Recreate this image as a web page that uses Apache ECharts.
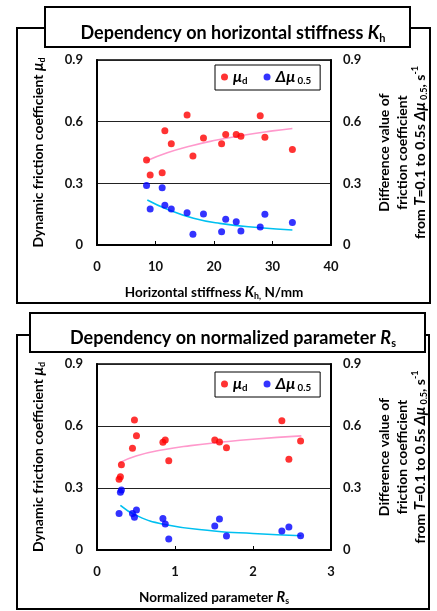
<!DOCTYPE html>
<html>
<head>
<meta charset="utf-8">
<script src="https://cdn.jsdelivr.net/npm/echarts@6/dist/echarts.min.js"></script>
<style>
  html, body { margin: 0; padding: 0; background: #fff; }
  #chart { width: 437px; height: 611px; }
</style>
</head>
<body>
<div id="chart"></div>
<script>
// top panel: horizontal stiffness Kh (N/mm)
let khValues = [8.47, 9.09, 11.14, 11.6, 12.7, 15.4, 16.4, 18.2, 21.3, 22.0, 23.8, 24.6, 27.9, 28.7, 33.4];
let khMu = [0.413, 0.340, 0.352, 0.556, 0.493, 0.632, 0.433, 0.520, 0.493, 0.537, 0.537, 0.529, 0.629, 0.524, 0.464];
let khDmu = [0.290, 0.175, 0.279, 0.193, 0.175, 0.157, 0.052, 0.151, 0.065, 0.125, 0.113, 0.068, 0.088, 0.149, 0.109];
let khMuFitX = [8.5, 12, 16, 20, 25, 30, 33.4];
let khMuFitY = [0.41, 0.449, 0.482, 0.508, 0.534, 0.555, 0.567];
let khDmuFitX = [8.6, 12, 16.5, 21, 27.9, 33.4];
let khDmuFitY = [0.219, 0.174, 0.130, 0.105, 0.084, 0.073];

// bottom panel: normalized parameter Rs
let rsValues = [0.283, 0.30, 0.313, 0.455, 0.48, 0.506, 0.845, 0.875, 0.92, 1.51, 1.57, 1.66, 2.37, 2.46, 2.61];
let rsMu = [0.342, 0.355, 0.413, 0.492, 0.629, 0.553, 0.521, 0.532, 0.432, 0.532, 0.523, 0.495, 0.626, 0.439, 0.527];
let rsDmu = [0.177, 0.279, 0.290, 0.177, 0.158, 0.193, 0.153, 0.126, 0.053, 0.116, 0.150, 0.068, 0.092, 0.111, 0.069];
let rsMuFitX = [0.29, 0.5, 0.85, 1.2, 1.6, 2.0, 2.62];
let rsMuFitY = [0.422, 0.455, 0.485, 0.505, 0.522, 0.536, 0.552];
let rsDmuFitX = [0.3, 0.5, 0.85, 1.5, 2.0, 2.62];
let rsDmuFitY = [0.216, 0.168, 0.125, 0.092, 0.080, 0.069];

let khMax = 40, khStep = 10;
let rsMax = 3, rsStep = 1;
let yMax = 0.9, yStep = 0.3;

const FONT = 'Lato';
const zip = (xs, ys) => xs.map((x, i) => [x, ys[i]]);

function richFor(size, lh) {
    return {
        b: { fontFamily: FONT, fontWeight: 'bold', fontSize: size, color: '#000', lineHeight: lh },
        i: { fontFamily: FONT, fontWeight: 'bold', fontStyle: 'italic', fontSize: size + 1, color: '#000', lineHeight: lh },
        sub: { fontFamily: FONT, fontWeight: 'bold', fontSize: size * 0.65, color: '#000', lineHeight: 9, verticalAlign: 'bottom' },
        sup: { fontFamily: FONT, fontWeight: 'bold', fontSize: size * 0.65, color: '#000', lineHeight: 9, verticalAlign: 'top' }
    };
}

const leftName = '{b|Dynamic friction coefficient }{i|μ}{sub|d}';
const rightName = '{b|Difference value of}\n{b|friction coefficient}\n' +
    '{b|from }{i|T}{b|=0.1 to 0.5s }{i|Δμ}{sub| 0.5}{b|, s}{sup|-1}';

function xAxisFor(grid, max, interval, nameStr) {
    return {
        type: 'value', gridIndex: grid, min: 0, max: max, interval: interval,
        name: nameStr, nameLocation: 'middle', nameGap: 39,
        nameTextStyle: { rich: richFor(13.5, 17) },
        axisLine: { show: true, lineStyle: { color: '#000', width: 2 } },
        axisTick: { show: true, inside: true, length: 4, lineStyle: { color: '#000' } },
        axisLabel: { margin: 15, fontFamily: FONT, fontWeight: 'bold', fontSize: 13, color: '#111' },
        splitLine: { show: false }
    };
}

function yAxisFor(grid, right) {
    return {
        type: 'value', gridIndex: grid, min: 0, max: yMax, interval: yStep,
        position: right ? 'right' : 'left',
        name: right ? rightName : leftName,
        nameLocation: 'middle', nameRotate: 90, nameGap: right ? 44 : 50,
        nameTextStyle: { rich: richFor(14, 18), align: 'center' },
        axisLine: { show: true, lineStyle: { color: '#000', width: 2 } },
        axisTick: { show: false },
        axisLabel: { margin: right ? 12 : 14, fontFamily: FONT, fontWeight: 'bold', fontSize: 13, color: '#111' },
        splitLine: { show: !right, lineStyle: { color: '#222', width: 1 } }
    };
}

function scatter(name, data, xi, yi, color) {
    return { name: name, type: 'scatter', xAxisIndex: xi, yAxisIndex: yi, data: data,
        symbolSize: 7, itemStyle: { color: color }, z: 3 };
}
function trend(data, xi, yi, color) {
    return { type: 'line', xAxisIndex: xi, yAxisIndex: yi, data: data, smooth: true,
        showSymbol: false, lineStyle: { color: color, width: 1.6 }, z: 2, silent: true };
}

function legendAt(top) {
    return {
        left: 215, top: top, orient: 'horizontal',
        data: ['mu', 'dmu'], icon: 'circle', itemWidth: 7, itemHeight: 7, itemGap: 16,
        padding: [4, 9, 4, 6], borderColor: '#000', borderWidth: 1, backgroundColor: '#fff',
        formatter: function (name) {
            return name === 'mu' ? '{i|μ}{sub|d}' : '{i|Δμ}{sub| 0.5}';
        },
        textStyle: { rich: richFor(15, 18) }
    };
}

function titleAt(text, top) {
    return {
        text: text, left: 228, top: top, textAlign: 'center',
        textStyle: { fontFamily: FONT, fontWeight: 'bold', fontSize: 18, color: '#000',
            rich: { i: { fontFamily: FONT, fontWeight: 'bold', fontStyle: 'italic', fontSize: 18, lineHeight: 22 },
                    s: { fontFamily: FONT, fontSize: 11, lineHeight: 9, verticalAlign: 'bottom' } } }
    };
}

let chart = echarts.init(document.getElementById('chart'));
let option = {
    animation: false,
    backgroundColor: '#fff',
    title: [
        titleAt('Dependency on horizontal stiffness {i|K}{s|h}', 17),
        titleAt('Dependency on normalized parameter {i|R}{s|s}', 322)
    ],
    graphic: [
        { type: 'rect', shape: { x: 17, y: 28, width: 413, height: 275 }, style: { fill: 'none', stroke: '#000', lineWidth: 2 }, z: -1 },
        { type: 'rect', shape: { x: 45, y: 7, width: 365, height: 40 }, style: { fill: '#fff', stroke: '#000', lineWidth: 2 }, z: 0 },
        { type: 'rect', shape: { x: 17, y: 335, width: 412, height: 274 }, style: { fill: 'none', stroke: '#000', lineWidth: 2 }, z: -1 },
        { type: 'rect', shape: { x: 30, y: 313, width: 395, height: 39 }, style: { fill: '#fff', stroke: '#000', lineWidth: 2 }, z: 0 }
    ],
    legend: [legendAt(65), legendAt(372)],
    grid: [
        { left: 97, top: 60, width: 234, height: 185, show: true, borderColor: '#000', borderWidth: 1.5 },
        { left: 97, top: 364, width: 234, height: 186, show: true, borderColor: '#000', borderWidth: 1.5 }
    ],
    xAxis: [
        xAxisFor(0, khMax, khStep, '{b|Horizontal stiffness }{i|K}{sub|h,}{b| N/mm}'),
        xAxisFor(1, rsMax, rsStep, '{b|Normalized parameter }{i|R}{sub|s}')
    ],
    yAxis: [yAxisFor(0, false), yAxisFor(0, true), yAxisFor(1, false), yAxisFor(1, true)],
    series: [
        trend(zip(khMuFitX, khMuFitY), 0, 0, '#ff99cc'),
        trend(zip(khDmuFitX, khDmuFitY), 0, 0, '#00c0f0'),
        scatter('mu', zip(khValues, khMu), 0, 0, '#ff0000'),
        scatter('dmu', zip(khValues, khDmu), 0, 0, '#0000ff'),
        trend(zip(rsMuFitX, rsMuFitY), 1, 2, '#ff99cc'),
        trend(zip(rsDmuFitX, rsDmuFitY), 1, 2, '#00c0f0'),
        scatter('mu', zip(rsValues, rsMu), 1, 2, '#ff0000'),
        scatter('dmu', zip(rsValues, rsDmu), 1, 2, '#0000ff')
    ]
};
chart.setOption(option);
</script>
</body>
</html>
